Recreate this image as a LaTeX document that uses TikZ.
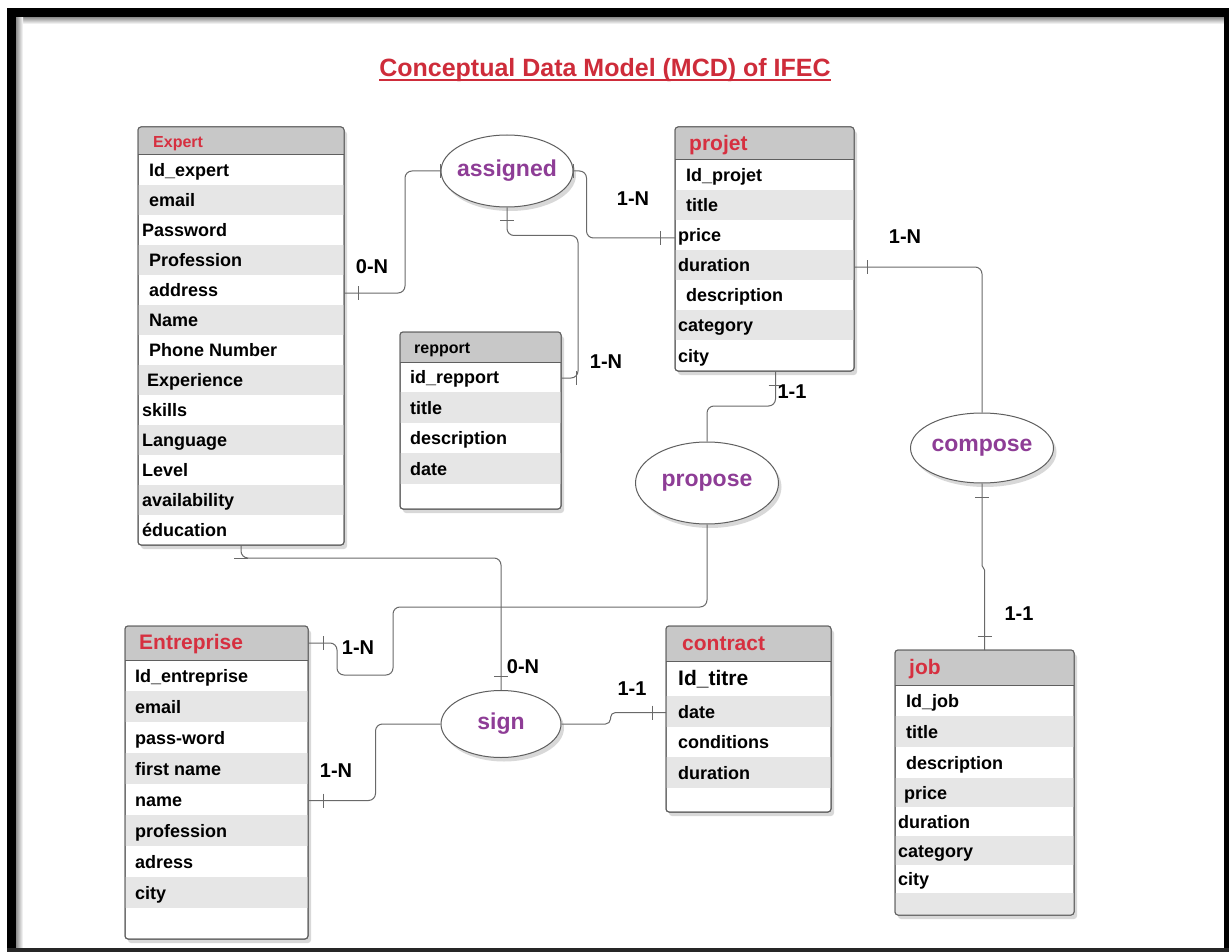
\documentclass[tikz,border=0pt]{standalone}
\usepackage{fontspec}
\setmainfont{Liberation Sans}
\usetikzlibrary{shapes.geometric,shadows,calc}

\definecolor{hred}{RGB}{214,48,64}
\definecolor{tred}{RGB}{206,44,58}
\definecolor{epurple}{RGB}{142,61,150}
\definecolor{headgray}{RGB}{200,200,200}
\definecolor{altrow}{RGB}{230,230,230}
\definecolor{bordercol}{RGB}{95,95,95}
\definecolor{linecol}{RGB}{105,105,105}

\tikzset{
  tablebox/.style={draw=bordercol, fill=white, rounded corners=3pt, line width=1pt, inner sep=0pt, outer sep=0pt,
    drop shadow={opacity=.3, shadow xshift=3pt, shadow yshift=-4pt}},
  rowtxt/.style={anchor=mid west, inner sep=0pt, font=\bfseries\fontsize{18}{20}\selectfont},
  hdrtxt/.style={anchor=mid west, inner sep=0pt, font=\bfseries},
  rel/.style={ellipse, draw=bordercol, line width=1pt, fill=white, inner xsep=-12pt, inner ysep=0pt, text=epurple,
    font=\bfseries\fontsize{23}{25}\selectfont, drop shadow={opacity=.3, shadow xshift=3pt, shadow yshift=-4pt}},
  conn/.style={draw=linecol, line width=1pt, rounded corners=7pt},
  tickmark/.style={draw=linecol, line width=1pt},
  card/.style={inner sep=0pt, font=\bfseries\fontsize{20}{22}\selectfont},
  titletxt/.style={inner sep=0pt, anchor=base, text=tred, font=\bfseries\fontsize{25}{28}\selectfont},
}

\newcommand{\erdtable}[9]{%
  \pgfmathsetmacro{\tbw}{#4-#2}%
  \pgfmathsetmacro{\tbh}{#5-#3}%
  \node[tablebox, minimum width=\tbw pt, minimum height=\tbh pt, anchor=north west] (#1) at (#2,#3) {};
  \begin{scope}
    \clip[rounded corners=3pt] (#2,#3) rectangle (#4,#5);
    \fill[headgray] (#2,#3) rectangle (#4,#6);
    \foreach \rt/\rh/\rx/\rtxt [count=\ri] in {#9} {
      \ifodd\ri\relax\else\fill[altrow] (#2,\rt) rectangle (#4,\rt+\rh);\fi
    }
  \end{scope}
  \draw[bordercol, line width=1pt] (#2,#6) -- (#4,#6);
  \node[hdrtxt] (#1-h) at ({#2+#7},{(#3+#6)/2+4}) {#8};
  \coordinate (#1-hc) at ({#2},{(#3+#6)/2});
  \foreach \rt/\rh/\rx/\rtxt [count=\ri] in {#9} {
    \node[rowtxt] (#1-\ri) at ({#2+\rx},{\rt+\rh/2+4}) {\rtxt};
    \coordinate (#1-r\ri) at ({#2},{\rt+\rh/2+1});
  }
  \draw[bordercol, line width=1pt, rounded corners=3pt] (#2,#3) rectangle (#4,#5);
}
\newcommand{\vtk}[1]{\draw[tickmark] ($(#1)+(0,-7)$) -- ($(#1)+(0,7)$);}
\newcommand{\htk}[1]{\draw[tickmark] ($(#1)+(-7,0)$) -- ($(#1)+(7,0)$);}

\begin{document}
\begin{tikzpicture}[x=1pt,y=-1pt]
\useasboundingbox (0,0) rectangle (1229,952);
\fill[white] (0,0) rectangle (1229,952);
% frame
\shade[top color=black!45, bottom color=white] (16,17) rectangle (1224,24);
\shade[left color=black!45, right color=white] (16,17) rectangle (23,948);
\fill[black] (7,8) rectangle (1229,17);
\fill[black] (7,8) rectangle (16,952);
\fill[black] (1224,8) rectangle (1229,952);
\fill[black!85] (7,948) rectangle (1229,952);

% title
\node[titletxt] (title) at (605,77) {Conceptual Data Model (MCD) of IFEC};
\draw[tred, line width=2pt] ($(title.base west)+(0,3.5)$) -- ($(title.base east)+(0,3.5)$);

% tables
\erdtable{expert}{138}{127}{344}{545}{155}{15}{\color{hred}\fontsize{16}{18}\selectfont Expert}{%
155/30/11/Id\_expert, 185/30/11/email, 215/30/4/Password, 245/30/11/Profession, 275/30/11/address,
305/30/11/Name, 335/30/11/Phone Number, 365/30/9/Experience, 395/30/4/skills, 425/30/4/Language,
455/30/4/Level, 485/30/4/availability, 515/30/4/éducation}

\erdtable{projet}{675}{127}{854}{371}{160}{14}{\color{hred}\fontsize{21}{23}\selectfont projet}{%
160/30/11/Id\_projet, 190/30/11/title, 220/30/3/price, 250/30/3/duration, 280/30/11/description,
310/30/3/category, 340/31/3/city}

\erdtable{repport}{400}{332}{561}{509}{362}{14}{\fontsize{16}{18}\selectfont repport}{%
362/30/10/id\_repport, 392/31/10/title, 423/30/10/description, 453/31/10/date, 484/25/10/{}}

\erdtable{entreprise}{125}{626}{308}{939}{660}{14}{\color{hred}\fontsize{21}{23}\selectfont Entreprise}{%
660/31/10/Id\_entreprise, 691/31/10/email, 722/31/10/pass-word, 753/31/10/first name, 784/31/10/name,
815/31/10/profession, 846/31/10/adress, 877/31/10/city, 908/31/10/{}}

\erdtable{contract}{666}{626}{831}{812}{661}{16}{\color{hred}\fontsize{21}{23}\selectfont contract}{%
661/35/12/{\fontsize{21}{23}\selectfont Id\_titre}, 696/31/12/date, 727/30/12/conditions, 757/31/12/duration, 788/24/12/{}}

\erdtable{job}{895}{650}{1074}{915}{685}{14}{\color{hred}\fontsize{21}{23}\selectfont job}{%
685/31/11/Id\_job, 716/31/11/title, 747/31/11/description, 778/29/9/price, 807/29/3/duration,
836/29/3/category, 865/28/3/city, 893/22/3/{}}

% relations
\node[rel, minimum width=132pt, minimum height=72pt] (assigned) at (507,171) {assigned};
\node[rel, minimum width=143pt, minimum height=82pt] (propose) at (707,483) {propose};
\node[rel, minimum width=143pt, minimum height=70pt] (compose) at (982,448) {compose};
\node[rel, minimum width=120pt, minimum height=67pt] (sign) at (501,724) {sign};

% connectors
\draw[conn] ($(expert.east |- expert-r5)+(0,2)$) -- ++(61,0) |- (assigned.west);
\vtk{$(expert.east |- expert-r5)+(14,2)$}
\vtk{assigned.west}

\draw[conn] (assigned.east) -- ++(13,0) |- ($(projet.west |- projet-r3)+(0,2)$);
\vtk{assigned.east}
\vtk{$(projet.west |- projet-r3)+(-15,2)$}

\draw[conn] (assigned.south) -- ++(0,28) -| ($(repport.east |- repport-r1)+(17,0)$) -- (repport.east |- repport-r1);
\htk{$(assigned.south)+(0,13)$}
\vtk{$(repport.east |- repport-r1)+(15,0)$}

\draw[conn] ($(projet.east |- projet-r4)+(0,1)$) -| (compose.north);
\vtk{$(projet.east |- projet-r4)+(13,1)$}

\draw[conn, rounded corners=0pt] (compose.south) -- ($(compose.south)+(0,82)$) -- ($(job.north)+(0,-80)$) -- (job.north);
\htk{$(compose.south)+(0,14)$}
\htk{$(job.north)+(0,-14)$}

\coordinate (pjs) at ($(projet.south)+(11,0)$);
\draw[conn] (pjs) -- ++(0,35) -| (propose.north);
\htk{$(pjs)+(0,14)$}

\draw[conn] (propose.south) |- (393,607) -- (393,675) -| ($(entreprise.east |- entreprise-hc)+(29,0)$) -- (entreprise.east |- entreprise-hc);
\vtk{$(entreprise.east |- entreprise-hc)+(15,0)$}

\draw[conn] (expert.south) -- ++(0,13) -| (sign.north);
\htk{$(expert.south)+(0,13)$}
\htk{$(sign.north)+(0,-14)$}

\draw[conn] (sign.west) -- ++(-65,0) |- (entreprise.east |- entreprise-r5);
\vtk{$(entreprise.east |- entreprise-r5)+(15,0)$}

\draw[conn, rounded corners=5pt] (sign.east) -- ++(49,0) |- (contract.west |- contract-r2);
\vtk{$(contract.west |- contract-r2)+(-14,0)$}

% cardinalities
\node[card] (c1) at (372,267) {0-N};
\node[card] (c2) at (633,199) {1-N};
\node[card] (c3) at (606,362) {1-N};
\node[card] (c4) at (905,237) {1-N};
\node[card] (c5) at (792,392) {1-1};
\node[card] (c6) at (1019,614) {1-1};
\node[card] (c7) at (358,648) {1-N};
\node[card] (c8) at (523,667) {0-N};
\node[card] (c9) at (632,689) {1-1};
\node[card] (c10) at (336,771) {1-N};
\end{tikzpicture}
\end{document}
